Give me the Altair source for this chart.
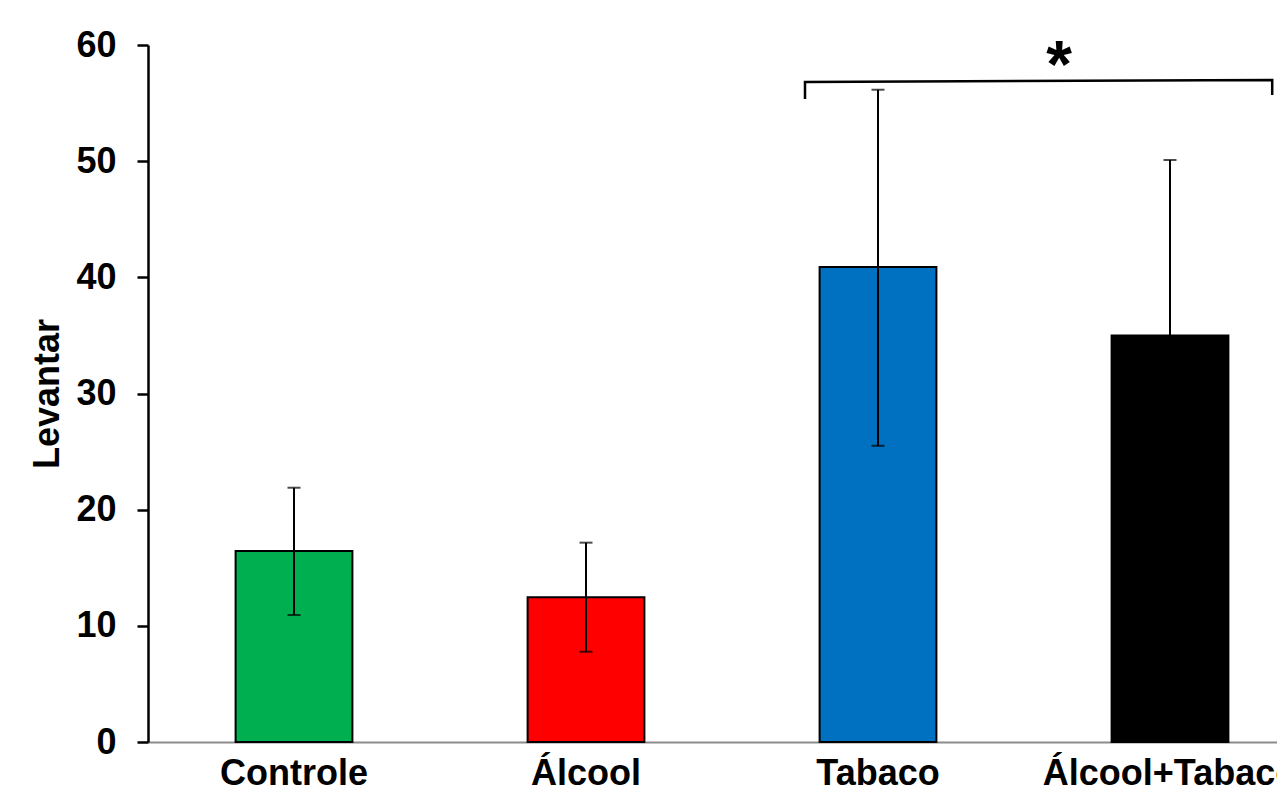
import altair as alt
import pandas as pd

# ---- data ----
categories = ["Controle", "Álcool", "Tabaco", "Álcool+Tabaco"]
means = [16.45, 12.45, 40.9, 35.0]
err_low = [10.93, 7.77, 25.5, 19.9]
err_high = [21.89, 17.16, 56.15, 50.1]
colors = ["#00B050", "#FF0000", "#0070C0", "#000000"]

# significance bracket (x in category-step units, y in data units)
bracket_x = [2.25, 2.25, 3.85, 3.85]
bracket_y = [55.35, 56.81, 56.99, 55.69]
bracket_order = [0, 1, 2, 3]
star_x = [3.12]
star_y = [56.4]
star_text = ["*"]

FONT = "Liberation Sans"
FULL_W = 1168  # full plot width (partly outside the window)

df = pd.DataFrame({"cat": categories, "mean": means, "lo": err_low, "hi": err_high, "color": colors})
br = pd.DataFrame({"x": bracket_x, "y": bracket_y, "o": bracket_order})
st = pd.DataFrame({"x": star_x, "y": star_y, "t": star_text})

yscale = alt.Scale(domain=[0, 60], nice=False, zero=True)
bandscale = alt.Scale(paddingInner=0.6, paddingOuter=0.3, range=[0, FULL_W])
xband = alt.X(
    "cat:N",
    sort=categories,
    scale=bandscale,
    axis=alt.Axis(
        title=None, labelAngle=0, labelFont=FONT, labelFontSize=36, labelFontWeight="bold",
        labelColor="#000000", ticks=False, tickSize=0, labelPadding=42, labelBaseline="alphabetic",
        domainColor="#8C8C8C", domainWidth=2, labelOverlap=False, labelLimit=0,
    ),
)

bars = alt.Chart(df).mark_bar(stroke="#000000", strokeWidth=2).encode(
    x=xband,
    y=alt.Y(
        "mean:Q", scale=yscale,
        axis=alt.Axis(
            title="Levantar", values=[0, 10, 20, 30, 40, 50, 60], grid=False,
            labelFont=FONT, labelFontSize=36, labelFontWeight="bold", labelColor="#000000",
            labelPadding=21, tickSize=11, tickWidth=2.5, tickColor="#000000",
            domainColor="#000000", domainWidth=2.5,
            titleFont=FONT, titleFontSize=36, titleFontWeight="bold", titleColor="#000000",
            titleAngle=270, titleBaseline="alphabetic", titleX=-90, titleY=348.5, titleAlign="center",
        ),
    ),
    color=alt.Color("color:N", scale=None),
)

rules = alt.Chart(df).mark_rule(color="#000000", strokeWidth=2).encode(
    x=alt.X("cat:N", sort=categories),
    y=alt.Y("lo:Q", scale=yscale),
    y2="hi:Q",
)
caps_hi = alt.Chart(df).mark_tick(color="#000000", size=13, thickness=2).encode(
    x=alt.X("cat:N", sort=categories),
    y=alt.Y("hi:Q", scale=yscale),
)
caps_lo = alt.Chart(df).mark_tick(color="#000000", size=13, thickness=2).encode(
    x=alt.X("cat:N", sort=categories),
    y=alt.Y("lo:Q", scale=yscale),
)

main = alt.layer(bars, rules, caps_hi, caps_lo)

qx = alt.Scale(domain=[0, 4], nice=False, zero=False, range=[0, FULL_W])
bracket = alt.Chart(br).mark_line(color="#000000", strokeWidth=2.5).encode(
    x=alt.X("x:Q", scale=qx, axis=None),
    y=alt.Y("y:Q", scale=yscale),
    order="o:Q",
)
star = alt.Chart(st).mark_text(
    font=FONT, fontSize=66, fontWeight="bold", color="#000000", baseline="alphabetic", align="center"
).encode(
    x=alt.X("x:Q", scale=qx, axis=None),
    y=alt.Y("y:Q", scale=yscale),
    text="t:N",
)
annot = alt.layer(bracket, star)

chart = alt.layer(main, annot).resolve_scale(x="independent").properties(
    width=1129,
    height=697,
    padding={"left": 140, "top": 37, "right": 0, "bottom": 51},
    autosize=alt.AutoSizeParams(type="none"),
).configure(background="#FFFFFF").configure_view(stroke=None)

chart.save("out.html", embed_options={"renderer": "svg", "actions": False})
